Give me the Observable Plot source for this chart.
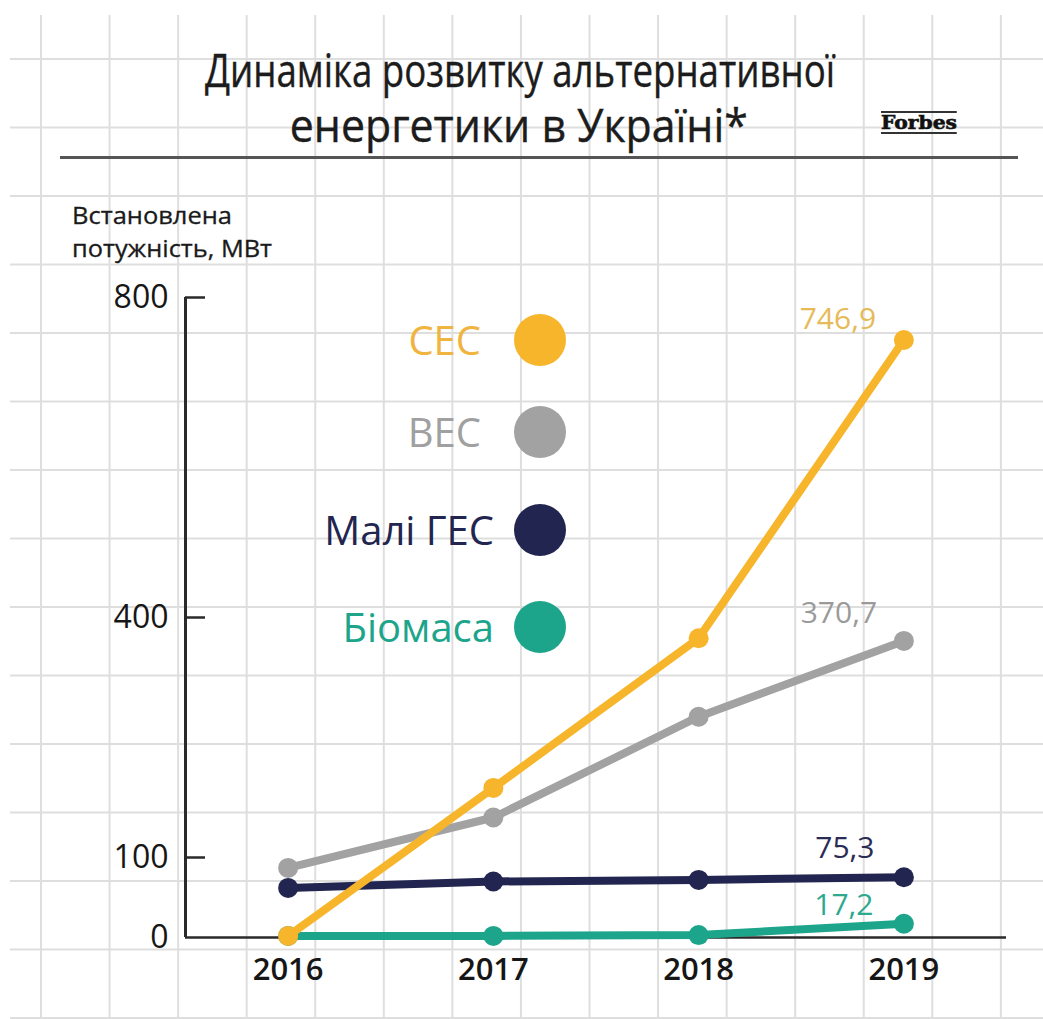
<!DOCTYPE html>
<html><head><meta charset="utf-8">
<script src="https://cdn.jsdelivr.net/npm/d3@7"></script>
<script src="https://cdn.jsdelivr.net/npm/@observablehq/plot@0.6"></script>
<style>
html,body{margin:0;padding:0;background:#fff;}
#page{position:relative;width:1043px;height:1019px;overflow:hidden;font-family:"Open Sans",sans-serif;background:#fff;}
#grid{position:absolute;left:10px;top:15px;right:0;bottom:0;
 background-image:linear-gradient(to right,#dedede 0,#dedede 1.5px,transparent 1.5px),linear-gradient(to bottom,#dedede 0,#dedede 1.5px,transparent 1.5px);
 background-size:68.57px 68.5px;background-position:30px 43px;}
#chart{position:absolute;left:0;top:0;}
.title{position:absolute;left:0;width:1043px;text-align:center;font-size:45px;color:#1c1c1c;white-space:nowrap;line-height:1;-webkit-text-stroke:0.4px #1c1c1c;}
.title span{display:inline-block;transform-origin:center;}
#t1{top:47px;left:-2px;}
#t2{top:102px;left:-3px;}
#forbes{position:absolute;left:881px;top:111px;font-family:"DejaVu Serif",serif;font-weight:bold;font-size:19px;line-height:19px;border-top:2px solid #333;border-bottom:2px solid #333;color:#111;white-space:nowrap;transform-origin:left center;-webkit-text-stroke:0.6px #111;}
#rule{position:absolute;left:60px;top:156px;width:958px;height:3px;background:#555;}
#ylab{position:absolute;left:72px;top:199px;font-size:23px;line-height:33px;color:#1a1a1a;-webkit-text-stroke:0.3px #1a1a1a;}
#ylab span{display:inline-block;transform-origin:left center;}
#legend{position:absolute;left:300px;top:0;}
.leg{position:absolute;display:flex;align-items:center;justify-content:flex-end;width:266px;height:54px;}
.leg .lbl{font-size:40px;margin-right:20px;line-height:1;}
.leg .sw{width:52px;height:52px;border-radius:50%;}
</style>
</head><body>
<div id="page">
  <div id="grid"></div>
  <div id="chart"></div>
  <div class="title" id="t1"><span>Динаміка розвитку альтернативної</span></div>
  <div class="title" id="t2"><span>енергетики в Україні*</span></div>
  <div id="forbes">Forbes</div>
  <div id="rule"></div>
  <div id="ylab"><span id="yl1">Встановлена</span><br><span id="yl2">потужність, МВт</span></div>
  <div id="legend"></div>
</div>
<script>
// ---- data ----
const years = [2016, 2017, 2018, 2019];
const seriesNames = ["СЕС", "ВЕС", "Малі ГЕС", "Біомаса"];
const sesValues = [2, 187, 374, 746.9];
const vesValues = [87, 150, 276, 370.7];
const hesValues = [62, 70, 72, 75.3];
const bioValues = [2, 2, 3, 17.2];
const valueLabels = ["746,9", "370,7", "75,3", "17,2"];
const yTicks = [0, 100, 400, 800];
const lineColors = ["#F7B52C", "#A2A2A2", "#22254F", "#1DA58B"];
const labelColors = ["#E6BA58", "#9A9A9A", "#2A2C55", "#2EA88F"];
const legendLabelColors = ["#F0B440", "#A0A0A0", "#22254F", "#1DA58B"];

// ---- build table ----
const valuesBySeries = [sesValues, vesValues, hesValues, bioValues];
const data = seriesNames.flatMap((s, i) => years.map((y, j) => ({series: s, year: y, value: valuesBySeries[i][j]})));
const lastPoints = seriesNames.map((s, i) => ({series: s, year: years[years.length - 1], value: valuesBySeries[i][years.length - 1], label: valueLabels[i]}));

const W = 1043, H = 1019;
const xDomain = [2015.5, 2019.5];
const yDomain = [0, 800];
const mLeft = 185, mRight = 37, mTop = 297, mBottom = 82;
const plotW = W - mLeft - mRight;

// label offsets (style)
const labelOffsets = {"СЕС": [-66, -21], "ВЕС": [-65, -28], "Малі ГЕС": [-59, -29], "Біомаса": [-60, -18]};
const drawOrder = ["ВЕС", "Малі ГЕС", "Біомаса", "СЕС"];

const marks = [
  Plot.ruleX([xDomain[0]], {y1: yDomain[0], y2: yDomain[1], stroke: "#2a2a2a", strokeWidth: 3}),
  Plot.ruleY([0], {stroke: "#2a2a2a", strokeWidth: 2.5}),
  Plot.tickY(yTicks.filter(t => t > 0), {stroke: "#2a2a2a", strokeWidth: 2.5, insetRight: plotW - 20}),
  Plot.axisY(yTicks, {anchor: "left", label: null, tickSize: 0, tickPadding: 17, fontSize: 32, fill: "#161616", tickFormat: d => String(d)}),
  Plot.axisX(years, {anchor: "bottom", label: null, tickSize: 0, tickPadding: 20, fontSize: 31, fontWeight: 600, fill: "#161616", tickFormat: d => String(d)})
];
for (const s of drawOrder) {
  const i = seriesNames.indexOf(s);
  const rows = data.filter(d => d.series === s);
  marks.push(Plot.line(rows, {x: "year", y: "value", stroke: lineColors[i], strokeWidth: 8, strokeLinejoin: "round"}));
  marks.push(Plot.dot(rows, {x: "year", y: "value", r: 10, fill: lineColors[i]}));
}
for (const p of lastPoints) {
  const i = seriesNames.indexOf(p.series);
  const [dx, dy] = labelOffsets[p.series];
  marks.push(Plot.text([p], {x: "year", y: "value", text: "label", dx, dy, fill: labelColors[i], fontSize: 30}));
}

const chart = Plot.plot({
  width: W, height: H,
  marginLeft: mLeft, marginRight: mRight, marginTop: mTop, marginBottom: mBottom,
  x: {domain: xDomain, axis: null},
  y: {domain: yDomain, axis: null},
  style: {background: "transparent", fontFamily: "Open Sans, sans-serif"},
  marks
});
document.getElementById("chart").appendChild(chart);

// legend
const legendTops = [313, 405, 503, 600];
const legendGaps = [33, 33, 20, 20];
const legend = document.getElementById("legend");
seriesNames.forEach((s, i) => {
  const row = document.createElement("div");
  row.className = "leg";
  row.style.top = legendTops[i] + "px";
  const lbl = document.createElement("span");
  lbl.className = "lbl"; lbl.textContent = s; lbl.style.color = legendLabelColors[i];
  lbl.style.marginRight = legendGaps[i] + "px";
  const sw = document.createElement("span");
  sw.className = "sw"; sw.style.background = lineColors[i];
  row.appendChild(lbl); row.appendChild(sw);
  legend.appendChild(row);
});

// fit widths
function fit(el, target) {
  const w = el.getBoundingClientRect().width;
  el.style.transform = `scaleX(${target / w})`;
}
fit(document.querySelector("#t1 span"), 630);
fit(document.querySelector("#t2 span"), 458);
fit(document.getElementById("yl1"), 160);
fit(document.getElementById("yl2"), 200);
fit(document.getElementById("forbes"), 76);
</script>
</body></html>
